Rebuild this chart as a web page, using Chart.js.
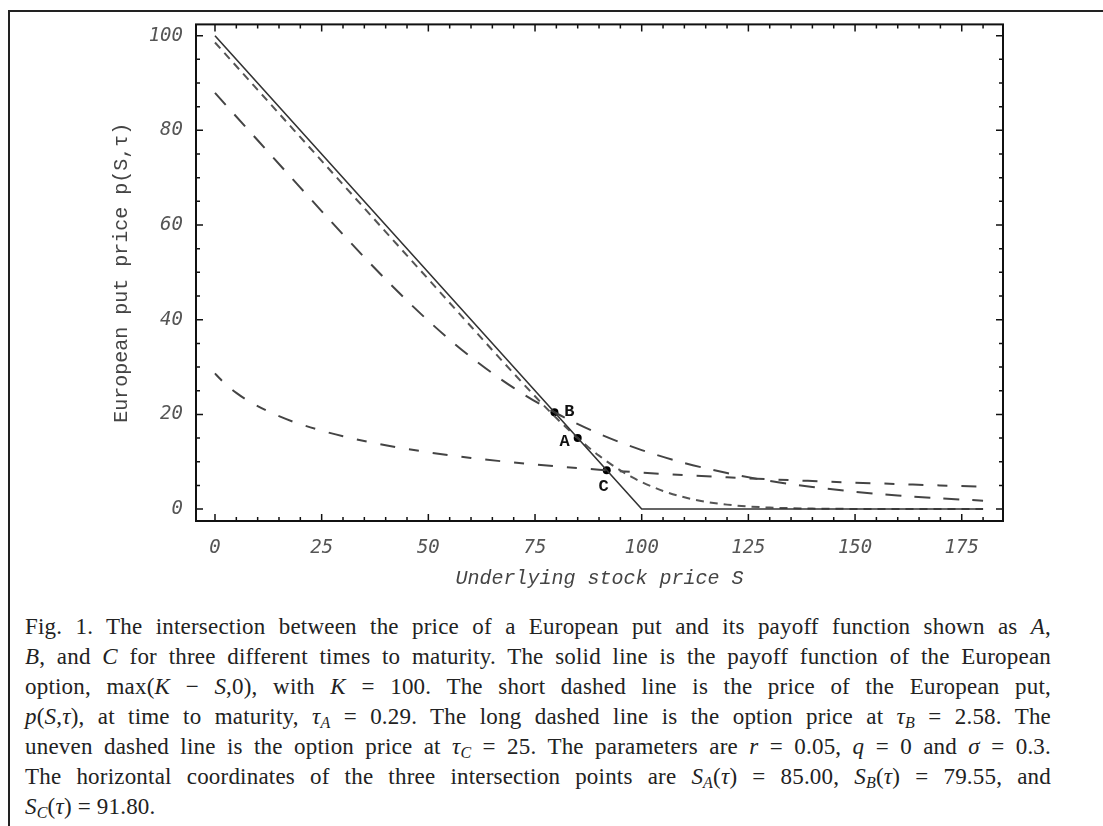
<!DOCTYPE html>
<html><head><meta charset="utf-8">
<script src="https://cdn.jsdelivr.net/npm/chart.js@4.4.1/dist/chart.umd.min.js"></script>
<style>
html,body{margin:0;padding:0;background:#fff;}
#wrap{position:relative;width:1103px;height:826px;overflow:hidden;background:#fff;}
#frame{position:absolute;left:8px;top:10px;right:-10px;bottom:-10px;border-top:2px solid #222;border-left:2px solid #222;}
#c{position:absolute;left:0;top:0;}
#cap{position:absolute;left:25px;top:612px;width:1026px;font-family:"Liberation Serif","Times New Roman",serif;font-size:23px;letter-spacing:0.2px;line-height:30px;color:#222;}
#cap div{text-align:justify;text-align-last:justify;}
#cap div.last{text-align-last:left;}
#cap sub{font-size:16px;line-height:0;vertical-align:-4px;}
</style>
</head><body>
<div id="wrap">
<div id="frame"></div>
<canvas id="c" width="1103" height="600"></canvas>
<div id="cap">
<div>Fig. 1. The intersection between the price of a European put and its payoff function shown as <i>A</i>,</div>
<div><i>B</i>, and <i>C</i> for three different times to maturity. The solid line is the payoff function of the European</div>
<div>option, max(<i>K</i> − <i>S</i>,0), with <i>K</i> = 100. The short dashed line is the price of the European put,</div>
<div><i>p</i>(<i>S</i>,<i>τ</i>), at time to maturity, <i>τ</i><sub><i>A</i></sub> = 0.29. The long dashed line is the option price at <i>τ</i><sub><i>B</i></sub> = 2.58. The</div>
<div>uneven dashed line is the option price at <i>τ</i><sub><i>C</i></sub> = 25. The parameters are <i>r</i> = 0.05, <i>q</i> = 0 and <i>σ</i> = 0.3.</div>
<div>The horizontal coordinates of the three intersection points are <i>S</i><sub><i>A</i></sub>(<i>τ</i>) = 85.00, <i>S</i><sub><i>B</i></sub>(<i>τ</i>) = 79.55, and</div>
<div class="last"><i>S</i><sub><i>C</i></sub>(<i>τ</i>) = 91.80.</div>
</div>
</div>
<script>
// ---- data ----
const sPayoff = [0, 100, 180];
const payoff = [100, 0, 0];

const sGridA = [0,10,20,30,40,50,60,65,70,75,77.5,80,82.5,85,87.5,90,92.5,95,97.5,100,105,110,115,120,125,130,140,150,160,170,180];
const putTauA = [98.56,88.56,78.56,68.56,58.56,48.56,38.56,33.58,28.65,23.82,21.48,19.22,17.06,14.99,13.07,11.28,9.65,8.18,6.86,5.70,3.83,2.48,1.55,0.94,0.55,0.32,0.10,0.03,0.01,0.00,0.00];

const sGridB = [0,10,20,30,40,50,60,70,80,90,100,110,120,130,140,150,160,170,180];
const putTauB = [87.90,77.90,67.91,58.01,48.50,39.77,32.09,25.59,20.24,15.91,12.46,9.74,7.62,5.94,4.67,3.65,2.87,2.27,1.78];

const sGridC = [0,1,2,3,5,7,10,15,20,30,40,50,60,70,80,90,100,110,120,130,140,150,160,170,180];
const putTauC = [28.65,27.68,26.79,25.98,24.55,23.31,21.74,19.62,17.93,15.37,13.47,12.00,10.81,9.84,9.02,8.32,7.70,7.17,6.71,6.29,5.92,5.58,5.29,4.99,4.75];

const crossS = [85.00, 79.55, 91.80];
const crossP = [15.00, 20.45, 8.20];
const crossLabels = ['A', 'B', 'C'];

const xTicks = [0,25,50,75,100,125,150,175];
const yTicks = [0,20,40,60,80,100];
const xMinor = [5,10,15,20,30,35,40,45,55,60,65,70,80,85,90,95,105,110,115,120,130,135,140,145,155,160,165,170,180];
const yMinor = [5,10,15,25,30,35,45,50,55,65,70,75,85,90,95];

const xTitle = 'Underlying stock price S';
const yTitle = 'European put price p(S,τ)';

const pts = (xs, ys) => xs.map((x, i) => ({x: x, y: ys[i]}));

// ---- styling / label offsets ----
const labelOffsets = [[-13, 4], [15, -1], [-3, 16]];

const framePlugin = {
  id: 'frameTicks',
  afterDatasetsDraw(chart) {
    const {ctx, chartArea: a, scales: {x, y}} = chart;
    ctx.save();
    ctx.strokeStyle = '#111';
    ctx.lineWidth = 1.5;
    const tick = (v, len, axis) => {
      if (axis === 'x') {
        const px = x.getPixelForValue(v);
        ctx.moveTo(px, a.bottom); ctx.lineTo(px, a.bottom - len);
        ctx.moveTo(px, a.top); ctx.lineTo(px, a.top + len);
      } else {
        const py = y.getPixelForValue(v);
        ctx.moveTo(a.left, py); ctx.lineTo(a.left + len, py);
        ctx.moveTo(a.right, py); ctx.lineTo(a.right - len, py);
      }
    };
    ctx.beginPath();
    xTicks.forEach(v => tick(v, 7, 'x'));
    xMinor.forEach(v => tick(v, 4, 'x'));
    yTicks.forEach(v => tick(v, 7, 'y'));
    yMinor.forEach(v => tick(v, 4, 'y'));
    ctx.stroke();
    ctx.lineWidth = 2;
    ctx.strokeRect(a.left, a.top, a.right - a.left, a.bottom - a.top);
    // point labels
    ctx.fillStyle = '#111';
    ctx.font = 'bold 17px "Liberation Mono", monospace';
    ctx.textAlign = 'center';
    ctx.textBaseline = 'middle';
    crossLabels.forEach((t, i) => {
      ctx.fillText(t, x.getPixelForValue(crossS[i]) + labelOffsets[i][0], y.getPixelForValue(crossP[i]) + labelOffsets[i][1]);
    });
    ctx.restore();
  }
};

new Chart(document.getElementById('c'), {
  type: 'line',
  data: {
    datasets: [
      {label: 'payoff', data: pts(sPayoff, payoff), borderColor: '#333', borderWidth: 1.6, pointRadius: 0, tension: 0},
      {label: 'tauA', data: pts(sGridA, putTauA), borderColor: '#555', borderWidth: 2, borderDash: [8, 6], pointRadius: 0, cubicInterpolationMode: 'monotone'},
      {label: 'tauB', data: pts(sGridB, putTauB), borderColor: '#444', borderWidth: 2, borderDash: [16, 13], pointRadius: 0, cubicInterpolationMode: 'monotone'},
      {label: 'tauC', data: pts(sGridC, putTauC), borderColor: '#444', borderWidth: 2, borderDash: [10, 14, 15, 14], pointRadius: 0, cubicInterpolationMode: 'monotone'},
      {label: 'cross', type: 'scatter', data: pts(crossS, crossP), showLine: false, pointRadius: 4, pointBackgroundColor: '#000', pointBorderColor: '#000', pointBorderWidth: 0}
    ]
  },
  options: {
    responsive: false,
    animation: false,
    parsing: true,
    layout: {padding: {left: 0, right: 100, top: 22, bottom: 0}},
    plugins: {legend: {display: false}, tooltip: {enabled: false}},
    scales: {
      x: {
        type: 'linear', min: -4.45, max: 184.67,
        afterBuildTicks: s => { s.ticks = xTicks.map(v => ({value: v})); },
        afterFit: s => { s.height = 79; },
        grid: {display: false, drawTicks: false},
        border: {display: false},
        ticks: {padding: 16, color: '#555', font: {family: '"DejaVu Sans Mono", monospace', style: 'italic', size: 19}, maxRotation: 0},
        title: {display: true, text: xTitle, color: '#444', padding: {top: 0, bottom: 9}, font: {family: '"Liberation Mono", monospace', style: 'italic', size: 20, lineHeight: 1.2}}
      },
      y: {
        type: 'linear', min: -2.52, max: 102.38,
        afterBuildTicks: s => { s.ticks = yTicks.map(v => ({value: v})); },
        afterFit: s => { s.width = 196; },
        grid: {display: false, drawTicks: false},
        border: {display: false},
        ticks: {padding: 13, color: '#555', font: {family: '"DejaVu Sans Mono", monospace', style: 'italic', size: 19}},
        title: {display: true, text: yTitle, color: '#444', padding: {top: 110, bottom: 0}, font: {family: '"Liberation Mono", monospace', size: 20, lineHeight: 1.2}}
      }
    }
  },
  plugins: [framePlugin]
});
</script>
</body></html>
